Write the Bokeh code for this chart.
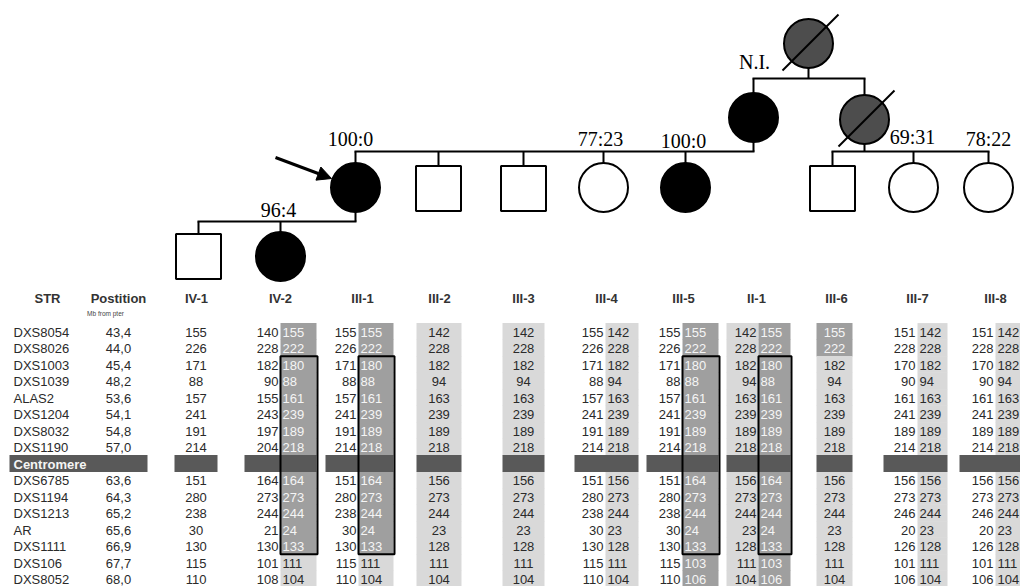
from bokeh.plotting import figure
from bokeh.models import Range1d, Arrow, NormalHead
from bokeh.core.properties import value
from bokeh.embed import file_html
from bokeh.resources import INLINE

# ---------------- DATA ----------------
markers = ["DXS8054", "DXS8026", "DXS1003", "DXS1039", "ALAS2", "DXS1204", "DXS8032", "DXS1190",
           "Centromere", "DXS6785", "DXS1194", "DXS1213", "AR", "DXS1111", "DXS106", "DXS8052"]
positions_mb = ["43,4", "44,0", "45,4", "48,2", "53,6", "54,1", "54,8", "57,0", "",
                "63,6", "64,3", "65,2", "65,6", "66,9", "67,7", "68,0"]
C = None
IV1 = [155, 226, 171, 88, 157, 241, 191, 214, C, 151, 280, 238, 30, 130, 115, 110]
IV2_a = [140, 228, 182, 90, 155, 243, 197, 204, C, 164, 273, 244, 21, 130, 101, 108]
IV2_b = [155, 222, 180, 88, 161, 239, 189, 218, C, 164, 273, 244, 24, 133, 111, 104]
III1_a = [155, 226, 171, 88, 157, 241, 191, 214, C, 151, 280, 238, 30, 130, 115, 110]
III1_b = [155, 222, 180, 88, 161, 239, 189, 218, C, 164, 273, 244, 24, 133, 111, 104]
III2 = [142, 228, 182, 94, 163, 239, 189, 218, C, 156, 273, 244, 23, 128, 111, 104]
III3 = [142, 228, 182, 94, 163, 239, 189, 218, C, 156, 273, 244, 23, 128, 111, 104]
III4_a = [155, 226, 171, 88, 157, 241, 191, 214, C, 151, 280, 238, 30, 130, 115, 110]
III4_b = [142, 228, 182, 94, 163, 239, 189, 218, C, 156, 273, 244, 23, 128, 111, 104]
III5_a = [155, 226, 171, 88, 157, 241, 191, 214, C, 151, 280, 238, 30, 130, 115, 110]
III5_b = [155, 222, 180, 88, 161, 239, 189, 218, C, 164, 273, 244, 24, 133, 103, 106]
II1_a = [142, 228, 182, 94, 163, 239, 189, 218, C, 156, 273, 244, 23, 128, 111, 104]
II1_b = [155, 222, 180, 88, 161, 239, 189, 218, C, 164, 273, 244, 24, 133, 103, 106]
III6 = [155, 222, 182, 94, 163, 239, 189, 218, C, 156, 273, 244, 23, 128, 111, 104]
III7_a = [151, 228, 170, 90, 161, 241, 189, 214, C, 156, 273, 246, 20, 126, 101, 106]
III7_b = [142, 228, 182, 94, 163, 239, 189, 218, C, 156, 273, 244, 23, 128, 111, 104]
III8_a = [151, 228, 170, 90, 161, 241, 189, 214, C, 156, 273, 246, 20, 126, 101, 106]
III8_b = [142, 228, 182, 94, 163, 239, 189, 218, C, 156, 273, 244, 23, 128, 111, 104]

# haplotype shading codes: w = none, l = light, d = dark (disease haplotype)
sh_none = "wwwwwwww-wwwwwww"
sh_light = "llllllll-lllllll"
sh_dark = "dddddddd-ddddddd"
sh_hap = "dddddddd-dddddll"
sh_III6 = "ddllllll-lllllll"

boxed_first, boxed_last = "DXS1003", "DXS1111"

individuals = ["IV-1", "IV-2", "III-1", "III-2", "III-3", "III-4", "III-5", "II-1", "III-6", "III-7", "III-8"]
genotypes = {
    "IV-1": [(IV1, sh_none)],
    "IV-2": [(IV2_a, sh_none), (IV2_b, sh_hap)],
    "III-1": [(III1_a, sh_none), (III1_b, sh_hap)],
    "III-2": [(III2, sh_light)],
    "III-3": [(III3, sh_light)],
    "III-4": [(III4_a, sh_none), (III4_b, sh_light)],
    "III-5": [(III5_a, sh_none), (III5_b, sh_dark)],
    "II-1": [(II1_a, sh_light), (II1_b, sh_dark)],
    "III-6": [(III6, sh_III6)],
    "III-7": [(III7_a, sh_none), (III7_b, sh_light)],
    "III-8": [(III8_a, sh_none), (III8_b, sh_light)],
}
boxed_cols = ["IV-2", "III-1", "III-5", "II-1"]

# pedigree
ped_ids = ["I-1", "II-1", "II-2", "III-1", "III-2", "III-3", "III-4", "III-5",
           "III-6", "III-7", "III-8", "IV-1", "IV-2"]
ped_sex = ["F", "F", "F", "F", "M", "M", "F", "F", "M", "F", "F", "M", "F"]
ped_status = ["grey", "affected", "grey", "affected", "normal", "normal", "normal", "affected",
              "normal", "normal", "normal", "normal", "affected"]
ped_deceased = ["I-1", "II-2"]
families = [("I-1", ["II-1", "II-2"]),
            ("II-1", ["III-1", "III-2", "III-3", "III-4", "III-5"]),
            ("II-2", ["III-6", "III-7", "III-8"]),
            ("III-1", ["IV-1", "IV-2"])]
xci_labels = {"I-1": "N.I.", "III-1": "100:0", "III-4": "77:23", "III-5": "100:0",
              "III-7": "69:31", "III-8": "78:22", "IV-2": "96:4"}
proband = "III-1"

# ---------------- LAYOUT ----------------
ped_xy = {"I-1": (808, 43), "II-1": (753, 117), "II-2": (864, 119),
          "III-1": (355, 187), "III-2": (438, 188), "III-3": (523, 188), "III-4": (603, 187),
          "III-5": (685, 187), "III-6": (832, 188), "III-7": (913, 187), "III-8": (988, 187),
          "IV-1": (198, 256), "IV-2": (280, 256)}
sib_y = {"I-1": 78, "II-1": 151, "II-2": 151, "III-1": 221}
label_xy = {"I-1": (754, 61), "III-1": (350, 138), "III-4": (600, 138), "III-5": (683, 140),
            "III-7": (912, 136), "III-8": (988, 138), "IV-2": (278, 209)}
R = 24.5
SQ = 45

col_geom = {"IV-1": (174, None, 217), "IV-2": (244, 280, 316), "III-1": (325, 358, 393),
            "III-2": (416, None, 461), "III-3": (502, None, 544), "III-4": (574, 605, 638),
            "III-5": (646, 682, 718), "II-1": (726, 758, 790), "III-6": (816, None, 852),
            "III-7": (883, 917, 947), "III-8": (959, 995, 1030)}
head_x = {"IV-1": 196, "IV-2": 280, "III-1": 362, "III-2": 439, "III-3": 523, "III-4": 606,
          "III-5": 683, "II-1": 756, "III-6": 836, "III-7": 917, "III-8": 995}
ROW_Y0, ROW_DY = 331.0, 16.5
HEAD_Y = 298

DARK, LIGHT, CENT = "#9f9f9f", "#d9d9d9", "#595959"
TXT, WTXT = "#2a2a2a", "#f5f5f5"
SANS, SERIF = "Liberation Sans", "Liberation Serif"


def ry(i):
    return ROW_Y0 + i * ROW_DY


p = figure(width=1020, height=586, x_range=Range1d(0, 1020), y_range=Range1d(586, 0),
           output_backend="svg", toolbar_location=None, x_axis_location=None,
           y_axis_location=None, min_border=0, outline_line_color=None,
           background_fill_color="white", border_fill_color="white")
p.grid.visible = False

# ---------------- TABLE ----------------
cx, cy, cw, cc = [], [], [], []
tx, ty, tt, ta, tc = [], [], [], [], []
cent_row = markers.index("Centromere")

for ind in individuals:
    x0, xs, x1 = col_geom[ind]
    alle = genotypes[ind]
    if xs is None:
        cells = [(x0, x1, alle[0], "center")]
    else:
        cells = [(x0, xs, alle[0], "right"), (xs, x1, alle[1], "left")]
    for (a0, a1, (vals, shade), align) in cells:
        for i, v in enumerate(vals):
            if v is None:
                continue
            s = shade[i]
            if s != "w":
                cx.append((a0 + a1) / 2)
                cy.append(ry(i))
                cw.append(a1 - a0)
                cc.append(DARK if s == "d" else LIGHT)
            if align == "center":
                tx.append((a0 + a1) / 2)
            elif align == "right":
                tx.append(a1 - 2)
            else:
                tx.append(a0 + 2)
            ty.append(ry(i) + 0.5)
            tt.append(str(v))
            ta.append(align)
            tc.append(WTXT if s == "d" else TXT)
    # centromere bar
    cx.append((x0 + x1) / 2)
    cy.append(ry(cent_row))
    cw.append(x1 - x0)
    cc.append(CENT)

# centromere bar under STR / position
cx.append(78)
cy.append(ry(cent_row))
cw.append(138)
cc.append(CENT)

p.rect(x=cx, y=cy, width=cw, height=ROW_DY + 0.3, fill_color=cc, line_color=None)

# boxes around the shared haplotype
b0, b1 = markers.index(boxed_first), markers.index(boxed_last)
bx, by, bw, bh = [], [], [], []
for ind in boxed_cols:
    x0, xs, x1 = col_geom[ind]
    bx.append((xs + x1 + 1) / 2)
    bw.append(x1 + 1 - xs)
    top = ry(b0) - ROW_DY / 2
    bot = ry(b1) + ROW_DY / 2
    by.append((top + bot) / 2)
    bh.append(bot - top)
p.rect(x=bx, y=by, width=bw, height=bh, fill_color=None, line_color="black", line_width=2)

p.text(x=tx, y=ty, text=tt, text_align=ta, text_color=tc, text_baseline="middle",
       text_font=value(SANS), text_font_size=value("13px"))

# marker names and positions
my, mt, pt_ = [], [], []
for i, m in enumerate(markers):
    if m == "Centromere":
        continue
    my.append(ry(i) + 0.5)
    mt.append(m)
    pt_.append(positions_mb[i])
p.text(x=[13] * len(mt), y=my, text=mt, text_align="left", text_baseline="middle",
       text_color=TXT, text_font=value(SANS), text_font_size=value("13px"))
p.text(x=[118] * len(pt_), y=my, text=pt_, text_align="center", text_baseline="middle",
       text_color=TXT, text_font=value(SANS), text_font_size=value("13px"))
p.text(x=[13], y=[ry(cent_row) + 0.5], text=["Centromere"], text_align="left",
       text_baseline="middle", text_color=WTXT, text_font_style="bold",
       text_font=value(SANS), text_font_size=value("13px"))

# headers
hx = [47, 118] + [head_x[i] for i in individuals]
ht = ["STR", "Postition"] + individuals
p.text(x=hx, y=[HEAD_Y] * len(hx), text=ht, text_align="center", text_baseline="middle",
       text_color="#333333", text_font_style="bold", text_font=value(SANS),
       text_font_size=value("13px"))
p.text(x=[105], y=[313], text=["Mb from pter"], text_align="center", text_baseline="middle",
       text_color="#444444", text_font=value(SANS), text_font_size=value("6.5px"))

# ---------------- PEDIGREE ----------------
def top_of(i):
    x, y = ped_xy[i]
    return y - (SQ / 2 if ped_sex[ped_ids.index(i)] == "M" else R)


def bottom_of(i):
    x, y = ped_xy[i]
    return y + (SQ / 2 if ped_sex[ped_ids.index(i)] == "M" else R)


sx0, sy0, sx1, sy1 = [], [], [], []
for parent, kids in families:
    px, py = ped_xy[parent]
    yl = sib_y[parent]
    sx0.append(px); sy0.append(bottom_of(parent)); sx1.append(px); sy1.append(yl)
    xs_ = [ped_xy[k][0] for k in kids] + [px]
    sx0.append(min(xs_) - 1); sy0.append(yl); sx1.append(max(xs_) + 1); sy1.append(yl)
    for k in kids:
        kx, _ = ped_xy[k]
        sx0.append(kx); sy0.append(yl); sx1.append(kx); sy1.append(top_of(k))
p.segment(x0=sx0, y0=sy0, x1=sx1, y1=sy1, line_color="black", line_width=2)

fill_map = {"affected": "black", "grey": "#4d4d4d", "normal": "white"}
ex, ey, ef, qx, qy, qf = [], [], [], [], [], []
for i, s, st in zip(ped_ids, ped_sex, ped_status):
    x, y = ped_xy[i]
    if s == "F":
        ex.append(x); ey.append(y); ef.append(fill_map[st])
    else:
        qx.append(x); qy.append(y); qf.append(fill_map[st])
p.ellipse(x=ex, y=ey, width=2 * R, height=2 * R, fill_color=ef, line_color="black", line_width=2)
p.rect(x=qx, y=qy, width=SQ, height=SQ, fill_color=qf, line_color="black", line_width=2)

# deceased slashes
dx0, dy0, dx1, dy1 = [], [], [], []
for i in ped_deceased:
    x, y = ped_xy[i]
    dx0.append(x - 26); dy0.append(y + 27); dx1.append(x + 30); dy1.append(y - 29)
p.segment(x0=dx0, y0=dy0, x1=dx1, y1=dy1, line_color="black", line_width=2)

# XCI ratio labels
lx = [label_xy[k][0] for k in xci_labels]
ly = [label_xy[k][1] for k in xci_labels]
lt = [xci_labels[k] for k in xci_labels]
p.text(x=lx, y=ly, text=lt, text_align="center", text_baseline="middle", text_color="black",
       text_font=value(SERIF), text_font_size=value("20px"))

# proband arrow
ax, ay = ped_xy[proband]
p.add_layout(Arrow(end=NormalHead(size=14, fill_color="black", line_color="black"),
                   x_start=ax - 80, y_start=ay - 30, x_end=ax - 24, y_end=ay - 9,
                   line_color="black", line_width=3))

open("out.html", "w").write(file_html(p, INLINE))
